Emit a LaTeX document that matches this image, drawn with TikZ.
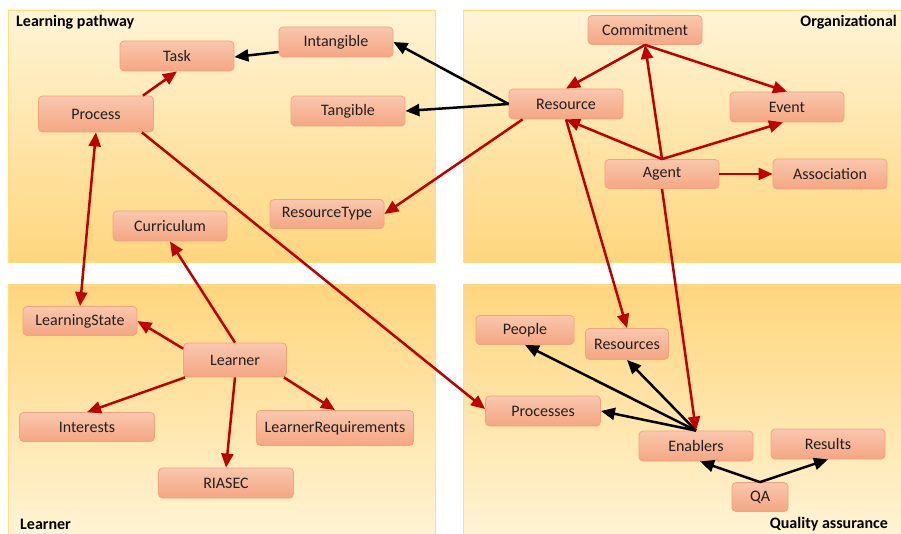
\documentclass[tikz,border=0pt]{standalone}
\usepackage{fontspec}
\setmainfont{Carlito}
\usetikzlibrary{arrows.meta,calc}
\definecolor{panelTop}{HTML}{FFF4D6}
\definecolor{panelMid}{HTML}{FFEDBE}
\definecolor{panelBot}{HTML}{FFD67E}
\definecolor{panelLine}{HTML}{FFE07A}
\definecolor{boxTop}{HTML}{F9C7AE}
\definecolor{boxBot}{HTML}{F5A683}
\definecolor{boxLine}{HTML}{F2A47C}
\definecolor{linkRed}{HTML}{C00000}
\definecolor{txt}{HTML}{202020}
\tikzset{
  panel/.style={draw=panelLine, line width=0.8pt},
  panelDown/.style={panel, top color=panelTop, middle color=panelMid, bottom color=panelBot},
  panelUp/.style={panel, top color=panelBot, middle color=panelMid, bottom color=panelTop},
  box/.style={draw=boxLine, line width=0.8pt, rounded corners=4pt,
    top color=boxTop, bottom color=boxBot, text=txt, inner sep=0pt,
    minimum width=114pt, minimum height=30pt,
    font=\fontsize{16}{18}\selectfont},
  title/.style={font=\fontsize{16}{18}\selectfont\bfseries, text=black, inner sep=0pt},
  tip/.style={-{Triangle[length=14pt,width=12pt]}},
  redlink/.style={draw=linkRed, line width=2.5pt, tip},
  blacklink/.style={draw=black, line width=2.5pt, tip},
}
\begin{document}
\begin{tikzpicture}[x=1pt,y=-1pt]
\useasboundingbox (0,0) rectangle (901,534);
\clip (0,0) rectangle (901,534);

% four areas
\path[panelDown] (8,10) rectangle (435,262);
\path[panelDown] (463,10) rectangle (906,262);
\path[panelUp] (8,285) rectangle (435,540);
\path[panelUp] (463,285) rectangle (906,540);

\node[title, anchor=west] (tLP) at (16,22) {Learning pathway};
\node[title, anchor=east] (tOrg) at (897,22) {Organizational};
\node[title, anchor=west] (tLearner) at (20,524) {Learner};
\node[title, anchor=east] (tQA) at (888,524) {Quality assurance};

% learning pathway
\node[box] (Task) at (177,56) {Task};
\node[box] (Intangible) at (336,42) {Intangible};
\node[box, minimum width=115pt, minimum height=36pt] (Process) at (96,114) {Process};
\node[box] (Tangible) at (348,111) {Tangible};
\node[box, minimum height=29pt] (ResourceType) at (327,214) {ResourceType};
\node[box] (Curriculum) at (170,226) {Curriculum};

% organizational
\node[box, minimum height=29pt] (Commitment) at (645,30) {Commitment};
\node[box] (Resource) at (566,104) {Resource};
\node[box] (Event) at (787,107) {Event};
\node[box, minimum height=29pt] (Agent) at (662,174) {Agent};
\node[box] (Association) at (830,174) {Association};

% learner
\node[box, minimum height=29pt] (LearningState) at (80,321) {LearningState};
\node[box, minimum width=103pt, minimum height=34pt] (Learner) at (235,360) {Learner};
\node[box, minimum width=135pt, minimum height=29pt] (Interests) at (87,427) {Interests};
\node[box, minimum width=157pt, minimum height=35pt] (LearnerRequirements) at (335,428) {LearnerRequirements};
\node[box, minimum width=135pt] (RIASEC) at (226,483) {RIASEC};

% quality assurance
\node[box, minimum width=98pt, minimum height=29pt] (People) at (525,330) {People};
\node[box, minimum width=83pt, minimum height=31pt] (Resources) at (627,344) {Resources};
\node[box, minimum width=115pt] (Processes) at (543,411) {Processes};
\node[box] (Enablers) at (696,446) {Enablers};
\node[box] (Results) at (828,444) {Results};
\node[box, minimum width=56pt, minimum height=29pt] (QA) at (760,497) {QA};

% black links
\draw[blacklink] ($(Intangible.west)+(0,10)$) -- ($(Task.east)+(0,1)$);
\draw[blacklink] (Resource.west) -- (Intangible.east);
\draw[blacklink] (Resource.west) -- (Tangible.east);
\draw[blacklink] (Enablers.north) -- (People.south);
\draw[blacklink] (Enablers.north) -- (Resources.south);
\draw[blacklink] (Enablers.north) -- (Processes.east);
\draw[blacklink] (QA.north) -- ($(Enablers.south)+(4,0)$);
\draw[blacklink] (QA.north) -- (Results.south);

% red links
\draw[redlink] ($(Process.north east)+(-11,0)$) -- (Task.south);
\draw[redlink, {Triangle[length=14pt,width=12pt]}-{Triangle[length=14pt,width=12pt]}] (Process.south) -- (LearningState.north);
\draw[redlink] ($(Process.south east)+(-12,0)$) -- ($(Processes.west)+(0,-2)$);
\draw[redlink] (Learner.north) -- (Curriculum.south);
\draw[redlink] ($(Learner.north west)+(0,6)$) -- (LearningState.east);
\draw[redlink] ($(Learner.south west)+(2,0)$) -- (Interests.north);
\draw[redlink] (Learner.south) -- (RIASEC.north);
\draw[redlink] ($(Learner.south east)+(-3,0)$) -- (LearnerRequirements.north);
\draw[redlink] ($(Resource.south west)+(14,0)$) -- (ResourceType.east);
\draw[redlink] (Commitment.south) -- (Resource.north);
\draw[redlink] (Commitment.south) -- (Event.north);
\draw[redlink] (Agent.north) -- (Commitment.south);
\draw[redlink] (Agent.north) -- (Resource.south);
\draw[redlink] (Agent.north) -- ($(Event.south)+(-4,0)$);
\draw[redlink] (Agent.east) -- (Association.west);
\draw[redlink] (Agent.south) -- (Enablers.north);
\draw[redlink] (Resource.south) -- (Resources.north);
\end{tikzpicture}
\end{document}
